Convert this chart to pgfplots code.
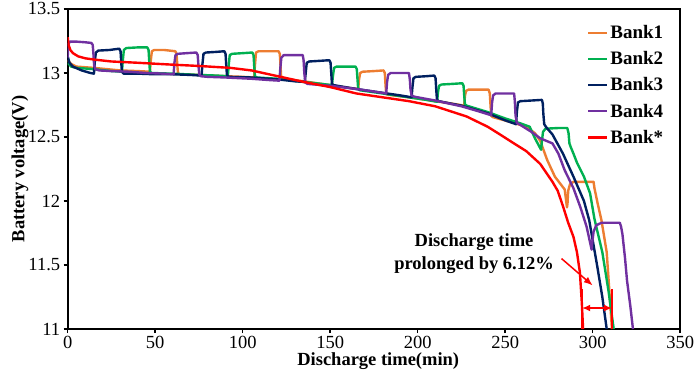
\documentclass[border=0pt]{standalone}
\usepackage{fontspec}
\setmainfont{Liberation Serif}
\usepackage{pgfplots}
\pgfplotsset{compat=1.18}
\usetikzlibrary{arrows.meta}
\definecolor{cB1}{RGB}{237,125,49}
\definecolor{cB2}{RGB}{0,176,80}
\definecolor{cB3}{RGB}{0,32,96}
\definecolor{cB4}{RGB}{112,48,160}
\definecolor{cBs}{RGB}{255,0,0}
\begin{document}
\begin{tikzpicture}
\begin{axis}[
  scale only axis, width=612.5pt, height=320pt,
  xmin=0, xmax=350, ymin=11, ymax=13.5,
  xtick={0,50,...,350}, ytick={11,11.5,12,12.5,13,13.5},
  tick align=outside, xtick pos=bottom, ytick pos=left,
  major tick length=4pt,
  axis line style={line width=2pt},
  tick style={line width=1.5pt, black},
  tick label style={font=\fontsize{18.5}{20}\selectfont},
  /pgf/number format/assume math mode=true,
  xlabel={Discharge time(min)}, ylabel={Battery voltage(V)},
  label style={font=\bfseries\fontsize{18.5}{21}\selectfont},
  xlabel style={at={(axis description cs:0.507,-0.101)}, anchor=center},
  ylabel style={at={(axis description cs:-0.078,0.5)}, anchor=center},
  legend style={at={(axis description cs:0.843,0.962)}, anchor=north west,
    draw=none, fill=none, font=\bfseries\fontsize{19}{21}\selectfont,
    row sep=7.5pt},
  legend cell align=left,
  legend image code/.code={\draw[#1, line width=2.2pt] (0pt,0pt) -- (19pt,0pt);},
  every axis plot/.append style={line width=2.4pt, line join=round, no marks},
]
% Bank1 (orange)
\addplot[cB1] coordinates {
(0,13.1)(2,13.07)(5,13.05)(15,13.04)(30,13.02)(40,13.015)(47,13.01)
(47.5,13.1)(48.1,13.17)(49.5,13.18)(55,13.18)(61.5,13.17)(62.2,13.15)(62.6,13.07)(63,13.0)(64,12.99)(75,12.985)(90,12.975)(100,12.97)(106.5,12.965)
(107,13.06)(107.6,13.16)(109,13.17)(115,13.17)(120.5,13.17)(121.2,13.15)(121.6,13.06)(122,12.965)(123,12.955)(135,12.935)(150,12.905)(160,12.885)(166,12.875)
(166.5,12.95)(167.1,13.0)(168.5,13.01)(175,13.015)(180.5,13.02)(181.2,13.0)(181.6,12.91)(182,12.835)(183,12.83)(195,12.81)(210,12.78)(220,12.76)(226.5,12.745)
(227,12.82)(227.6,12.86)(229,12.87)(235,12.87)(240.5,12.87)(241.2,12.84)(241.6,12.75)(242,12.665)(243,12.655)(255,12.61)(262,12.58)(267,12.53)(270,12.47)(274,12.32)(278.4,12.19)(284,12.09)(285.3,11.95)
(285.6,11.98)(286,12.08)(287,12.13)(289,12.15)(295,12.15)(300.5,12.15)(301,12.1)(303,11.97)(305,11.85)(308,11.6)(311,11.0)
};
\addlegendentry{Bank1}
% Bank2 (green)
\addplot[cB2] coordinates {
(0,13.08)(2,13.05)(5,13.04)(15,13.03)(25,13.015)(31,13.01)
(31.5,13.1)(32.1,13.18)(33.5,13.195)(40,13.2)(45.5,13.2)(46.2,13.18)(46.6,13.09)(47,13.01)(48,13.0)(60,12.995)(75,12.985)(85,12.98)(91.5,12.975)
(92,13.06)(92.6,13.14)(94,13.15)(100,13.155)(105.5,13.16)(106.2,13.14)(106.6,13.05)(107,12.975)(108,12.965)(120,12.955)(135,12.93)(145,12.915)(151,12.905)
(151.6,12.98)(152.2,13.04)(153.6,13.05)(160,13.05)(164.5,13.05)(165.2,13.03)(165.6,12.95)(166,12.875)(167,12.865)(180,12.84)(195,12.81)(205,12.79)(211.1,12.775)
(211.6,12.85)(212.2,12.9)(213.6,12.91)(220,12.915)(225.5,12.92)(226.2,12.9)(226.6,12.82)(227,12.755)(228,12.745)(240,12.695)(250,12.645)(258,12.61)(264,12.58)(267,12.49)(270.5,12.4)
(271,12.47)(271.6,12.54)(273,12.565)(280,12.57)(285.5,12.57)(286.2,12.53)(286.7,12.45)(287.5,12.42)(289,12.37)(291,12.3)(295,12.19)(298.5,12.06)(301,11.86)(305.5,11.6)(309,11.3)(312,11.0)
};
\addlegendentry{Bank2}
% Bank3 (navy)
\addplot[cB3] coordinates {
(0,13.13)(1,13.08)(3,13.05)(8,13.02)(13,13.0)(15,12.995)
(15.5,13.09)(16.1,13.16)(17.5,13.175)(24,13.18)(29.5,13.19)(30.2,13.17)(30.6,13.08)(31,13.01)(32,12.995)(40,12.995)(50,12.99)(60,12.99)(70,12.985)(76.5,12.98)
(77,13.07)(77.6,13.15)(79,13.16)(85,13.165)(89.5,13.17)(90.2,13.15)(90.6,13.06)(91,12.985)(92,12.97)(105,12.965)(120,12.95)(130,12.935)(135.5,12.93)
(136,13.0)(136.6,13.08)(138,13.09)(144,13.095)(149.5,13.1)(150.2,13.08)(150.6,13.0)(151,12.915)(152,12.905)(165,12.875)(180,12.845)(190,12.825)(196.5,12.81)
(197,12.89)(197.6,12.96)(199,12.97)(205,12.975)(209.5,12.98)(210.2,12.96)(210.6,12.87)(211,12.79)(212,12.78)(225,12.745)(240,12.685)(250,12.63)(256.2,12.6)
(256.7,12.7)(257.3,12.77)(258.7,12.78)(265,12.785)(271,12.79)(271.5,12.76)(271.8,12.68)(272.3,12.6)(273.5,12.575)(277,12.52)(283,12.37)(289,12.19)(295,12.0)(298,11.85)(302.6,11.49)(305.5,11.25)(308,11.0)
};
\addlegendentry{Bank3}
% Bank4 (purple)
\addplot[cB4] coordinates {
(0,13.12)(0.3,13.22)(1.2,13.245)(5,13.245)(10,13.24)(13.5,13.235)(14.3,13.22)(14.7,13.15)(15.1,13.06)(15.8,13.03)(18,13.02)(25,13.015)(35,13.01)(45,13.0)(55,12.995)(60.5,12.99)
(61,13.08)(61.6,13.14)(63,13.15)(68,13.155)(73.5,13.16)(74.3,13.14)(74.7,13.06)(75.2,12.99)(76,12.975)(80,12.97)(90,12.965)(105,12.955)(115,12.945)(121,12.94)
(121.5,13.04)(122.1,13.12)(123.5,13.14)(130,13.14)(134.3,13.14)(134.8,13.1)(135.2,13.0)(135.8,12.925)(137,12.915)(150,12.9)(165,12.875)(175,12.855)(182,12.84)
(182.5,12.93)(183.1,12.985)(184.5,13.0)(190,13.0)(195,13.0)(195.5,12.95)(195.9,12.87)(196.5,12.825)(198,12.815)(210,12.785)(225,12.74)(235,12.7)(242,12.67)
(242.5,12.77)(243.1,12.825)(244.5,12.84)(250,12.84)(255.1,12.84)(255.5,12.78)(255.9,12.67)(256.6,12.61)(258,12.6)(265,12.54)(270,12.49)(277,12.45)(280.4,12.37)(284,12.24)(289,12.1)(293,11.95)(296.5,11.8)(299.4,11.62)
(299.6,11.66)(300.5,11.76)(302,11.81)(305,11.83)(310,11.83)(315.5,11.83)(316.2,11.8)(317,11.74)(318.5,11.55)(319.6,11.38)(321.5,11.18)(323,11.0)
};
\addlegendentry{Bank4}
% Bank* (red)
\addplot[cBs] coordinates {
(0,13.28)(0.5,13.22)(1.5,13.18)(3,13.155)(6,13.13)(10,13.115)(15,13.105)(25,13.09)(40,13.08)(60,13.065)(75,13.055)(93,13.04)(105,13.02)(120,12.975)(135,12.93)(150,12.89)(165,12.84)(175,12.82)(195,12.78)(210,12.74)(228,12.66)(240,12.58)(247,12.52)(255,12.45)(262,12.39)(266,12.34)(270,12.29)(273,12.23)(277,12.15)(280,12.08)(283,11.96)(286,11.83)(289,11.72)(291,11.6)(292.7,11.44)(293.8,11.2)(294.5,11.0)
};
\addlegendentry{Bank*}
% annotation
\draw[cBs, line width=1.5pt, -{Latex[length=9pt,width=7pt]}] (axis cs:282.2,11.55) -- (axis cs:300,11.34);
\draw[cBs, line width=1.5pt, {Latex[length=8pt,width=7pt]}-{Latex[length=8pt,width=7pt]}] (axis cs:294,11.164) -- (axis cs:311,11.164);
\draw[cBs, line width=1.5pt] (axis cs:294,11.0) -- (axis cs:294,11.31);
\draw[cBs, line width=1.5pt] (axis cs:311,11.0) -- (axis cs:311,11.31);
\node[align=center, font=\bfseries\fontsize{18.5}{23}\selectfont] at (axis cs:232.2,11.59) {Discharge time\\prolonged by 6.12\%};
\end{axis}
\pgfresetboundingbox
\path (-67.7pt,-41pt) rectangle (631.3pt,329pt);
\end{tikzpicture}
\end{document}
